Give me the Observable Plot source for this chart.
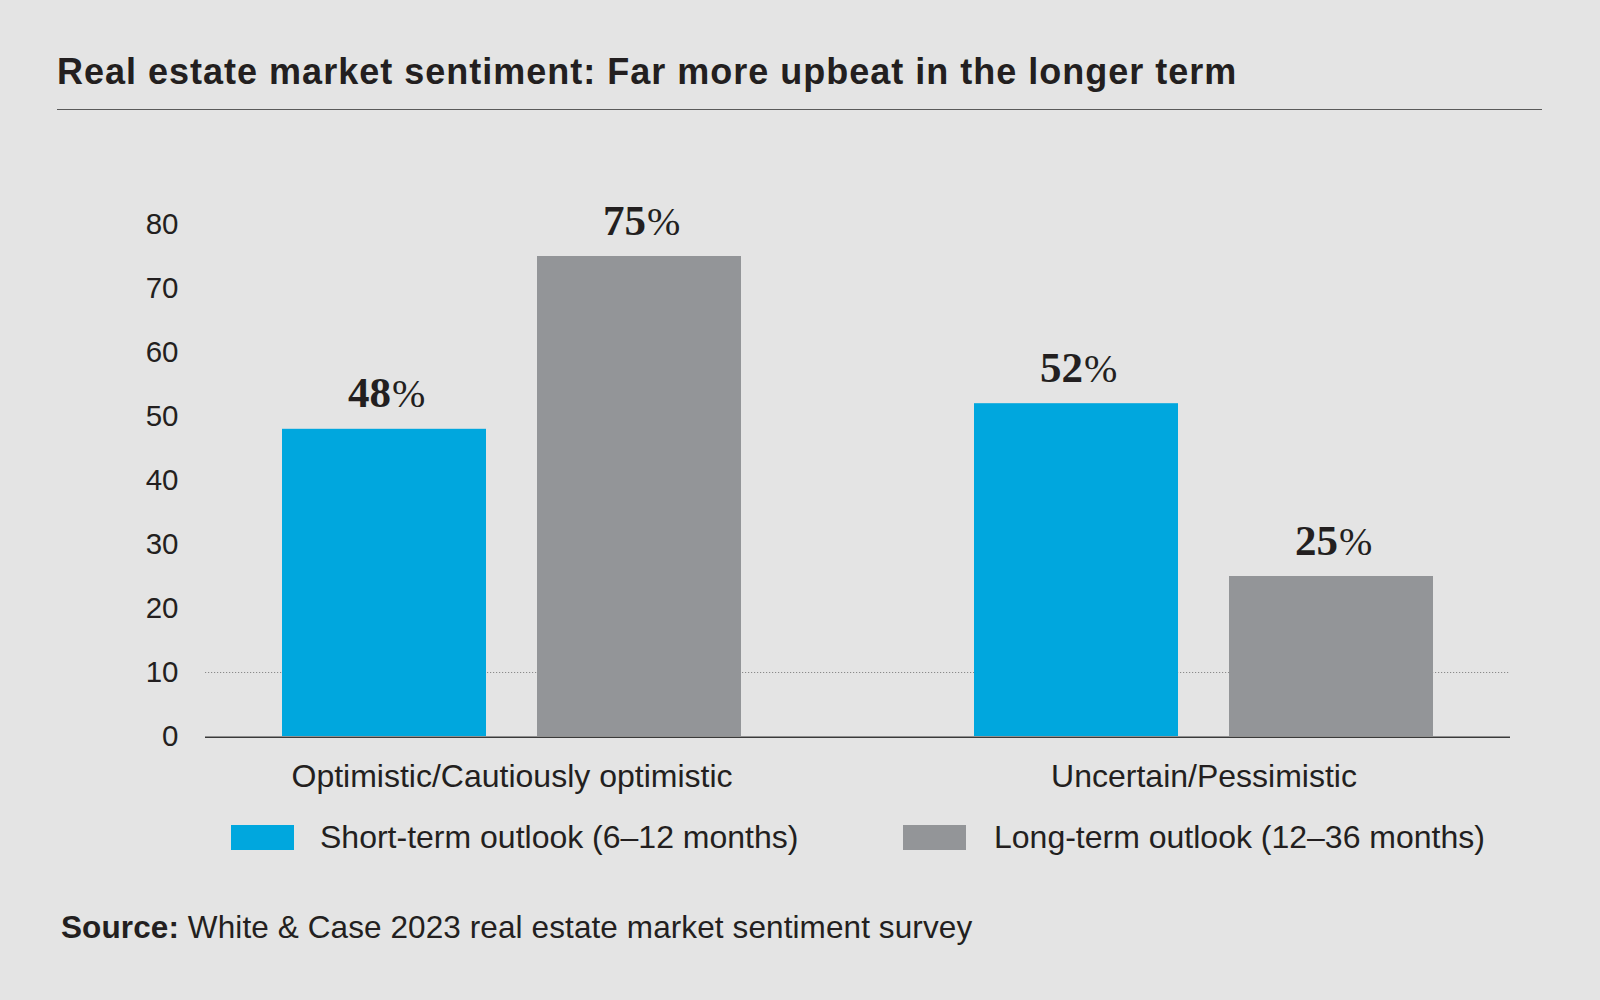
<!DOCTYPE html>
<html>
<head>
<meta charset="utf-8">
<script src="https://cdn.jsdelivr.net/npm/d3@7"></script>
<script src="https://cdn.jsdelivr.net/npm/@observablehq/plot@0.6"></script>
<style>
  html, body { margin: 0; padding: 0; background: #e4e4e4; }
  #page { position: relative; width: 1600px; height: 1000px; background: #e4e4e4; overflow: hidden; color: #231f20; }
  #title { position: absolute; left: 57px; top: 54px; font-family: "Liberation Sans", sans-serif; font-weight: bold; font-size: 36px; line-height: 36px; white-space: nowrap; letter-spacing: 1px; }
  #rule { position: absolute; left: 57px; top: 108.5px; width: 1485px; height: 1.6px; background: #5a5a5a; }
  .layer { position: absolute; left: 0; top: 130px; }
  .swatch { position: absolute; width: 63px; height: 25px; }
  .ltext { position: absolute; font-family: "Liberation Sans", sans-serif; font-size: 32px; line-height: 32px; white-space: nowrap; }
  #source { position: absolute; left: 61px; top: 912px; font-family: "Liberation Sans", sans-serif; font-size: 31.5px; line-height: 31.5px; white-space: nowrap; letter-spacing: 0.1px; }
</style>
</head>
<body>
<div id="page">
  <div id="title">Real estate market sentiment: Far more upbeat in the longer term</div>
  <div id="rule"></div>
  <div id="grid" class="layer"></div>
  <div id="chart" class="layer"></div>
  <div id="legend"></div>
  <div id="source"><b>Source:</b> White &amp; Case 2023 real estate market sentiment survey</div>
</div>
<script>
const categories = ["Optimistic/Cautiously optimistic", "Uncertain/Pessimistic"];
const series = ["Short-term outlook (6–12 months)", "Long-term outlook (12–36 months)"];
const shortTerm = [48, 52];
const longTerm = [75, 25];
const yTicks = [0, 10, 20, 30, 40, 50, 60, 70, 80];
const colors = ["#00a7de", "#939598"];

const data = [];
categories.forEach((c, i) => {
  data.push({category: c, series: series[0], value: shortTerm[i]});
  data.push({category: c, series: series[1], value: longTerm[i]});
});

const textColor = "#231f20";
const frame = {width: 1600, height: 676, marginLeft: 205, marginRight: 90, marginTop: 94, marginBottom: 70};
const yScale = {domain: [0, 80], label: null, axis: null};
const baseStyle = {background: "transparent", fontFamily: "Liberation Sans, sans-serif", color: textColor, overflow: "visible"};

// Background layer: y axis, dotted gridline at 10, baseline at 0
const grid = Plot.plot({
  ...frame,
  style: baseStyle,
  y: yScale,
  marks: [
    Plot.ruleY([10], {stroke: "#8a8a8a", strokeWidth: 1, strokeDasharray: "1.2,1.8"}),
    Plot.ruleY([0], {stroke: "#3a3a3a", strokeWidth: 1.6, dy: 0.8}),
    Plot.axisY({ticks: yTicks, tickSize: 0, tickPadding: 27, fontSize: 29.5, label: null, fill: textColor})
  ]
});
document.getElementById("grid").appendChild(grid);

// Foreground layer: grouped bars, value labels, category labels
const chart = Plot.plot({
  ...frame,
  style: baseStyle,
  fx: {domain: categories, paddingInner: 0.3338, paddingOuter: 0.1098, label: null},
  x: {domain: series, paddingInner: 0.199, paddingOuter: 0, axis: null},
  y: yScale,
  color: {domain: series, range: colors},
  marks: [
    Plot.barY(data, {fx: "category", x: "series", y: "value", fill: "series"}),
    Plot.axisFx({anchor: "bottom", tickSize: 0, tickPadding: 28, fontSize: 32, label: null, fill: textColor}),
    Plot.text(data, {fx: "category", x: "series", y: "value", text: d => String(d.value), textAnchor: "end", lineAnchor: "bottom", dx: 6.5, dy: -22, fontFamily: "Liberation Serif, serif", fontWeight: "bold", fontSize: 43, fill: textColor}),
    Plot.text(data, {fx: "category", x: "series", y: "value", text: () => "%", textAnchor: "start", lineAnchor: "bottom", dx: 7.5, dy: -22, fontFamily: "Liberation Serif, serif", fontWeight: "normal", fontSize: 40, fill: textColor})
  ]
});
document.getElementById("chart").appendChild(chart);

// Legend
const legend = document.getElementById("legend");
const legendPos = [{sx: 231, tx: 320}, {sx: 903, tx: 994}];
series.forEach((s, i) => {
  const sw = document.createElement("div");
  sw.className = "swatch";
  sw.style.left = legendPos[i].sx + "px";
  sw.style.top = "825px";
  sw.style.background = colors[i];
  legend.appendChild(sw);
  const t = document.createElement("div");
  t.className = "ltext";
  t.style.left = legendPos[i].tx + "px";
  t.style.top = "821px";
  t.textContent = s;
  legend.appendChild(t);
});
</script>
</body>
</html>
